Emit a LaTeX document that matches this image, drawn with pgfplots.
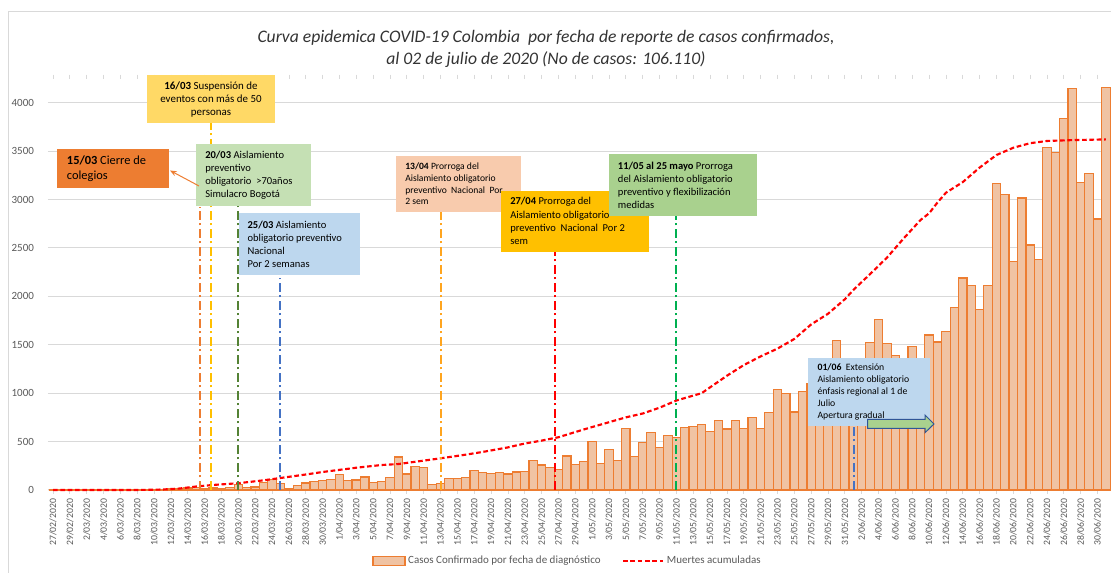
\documentclass[border=0pt]{standalone}
\usepackage{fontspec}
\setmainfont{Carlito}
\usepackage{pgfplots}
\pgfplotsset{compat=1.18}
\usetikzlibrary{arrows.meta}

\definecolor{gridgray}{HTML}{D9D9D9}
\definecolor{ticktext}{HTML}{595959}
\definecolor{titletext}{HTML}{333333}
\definecolor{barfill}{HTML}{F0C3A3}
\definecolor{barline}{HTML}{ED7D31}
\definecolor{boxyellow}{HTML}{FFD966}
\definecolor{boxorange}{HTML}{ED7D31}
\definecolor{boxgreenl}{HTML}{C5E0B4}
\definecolor{boxblue}{HTML}{BDD7EE}
\definecolor{boxpeach}{HTML}{F8CBAD}
\definecolor{boxgold}{HTML}{FFC000}
\definecolor{boxgreen}{HTML}{A9D18E}
\definecolor{arrowblue}{HTML}{2F5597}
\definecolor{lorange}{HTML}{ED7D31}
\definecolor{lyellow}{HTML}{FFC000}
\definecolor{ldkgreen}{HTML}{548235}
\definecolor{lblue}{HTML}{4472C4}
\definecolor{lorange2}{HTML}{FFA51F}
\definecolor{lgreen}{HTML}{00B050}

\tikzset{vline/.style={line width=1.5pt, dash pattern=on 7pt off 2.5pt on 1.5pt off 2.5pt}}

\begin{document}
\begin{tikzpicture}
\path[use as bounding box] (0,0) rectangle (833.25pt,429.75pt);

\begin{axis}[
  at={(36pt,62.25pt)}, anchor=south west,
  scale only axis, width=797.25pt, height=308.6pt,
  xmin=-0.6, xmax=125.6, ymin=0, ymax=4250,
  clip=false,
  axis line style={draw=none},
  ymajorgrids, grid style={gridgray, line width=0.75pt},
  ytick={0,500,...,4000},
  /pgf/number format/assume math mode=true,
  /pgf/number format/1000 sep={},
  yticklabel style={font=\fontsize{8.25}{10}\selectfont, text=ticktext, xshift=-4pt},
  y tick style={draw=none},
  xtick={0,2,...,124},
  xticklabels={27/02/2020,29/02/2020,2/03/2020,4/03/2020,6/03/2020,8/03/2020,10/03/2020,12/03/2020,14/03/2020,16/03/2020,18/03/2020,20/03/2020,22/03/2020,24/03/2020,26/03/2020,28/03/2020,30/03/2020,1/04/2020,3/04/2020,5/04/2020,7/04/2020,9/04/2020,11/04/2020,13/04/2020,15/04/2020,17/04/2020,19/04/2020,21/04/2020,23/04/2020,25/04/2020,27/04/2020,29/04/2020,1/05/2020,3/05/2020,5/05/2020,7/05/2020,9/05/2020,11/05/2020,13/05/2020,15/05/2020,17/05/2020,19/05/2020,21/05/2020,23/05/2020,25/05/2020,27/05/2020,29/05/2020,31/05/2020,2/06/2020,4/06/2020,6/06/2020,8/06/2020,10/06/2020,12/06/2020,14/06/2020,16/06/2020,18/06/2020,20/06/2020,22/06/2020,24/06/2020,26/06/2020,28/06/2020,30/06/2020},
  xticklabel style={rotate=90, anchor=east, font=\fontsize{7.3}{8}\selectfont, text=ticktext},
  x tick style={draw=gridgray, line width=0.6pt},
  major tick length=3pt, tick align=outside,
  legend style={at={(0.489,-0.1725)}, anchor=center, draw=none, fill=none,
    legend columns=2, font=\fontsize{8.25}{10}\selectfont, text=ticktext,
    /tikz/every even column/.append style={column sep=14pt}},
]

\addplot[ybar, bar width=1, fill=barfill, draw=barline, line width=0.9pt,
  legend image code/.code={\draw[fill=barfill, draw=barline, line width=0.9pt] (0pt,-3.4pt) rectangle (24pt,3.4pt);}]
coordinates {
(0,0) (1,0) (2,0) (3,0) (4,0) (5,0) (6,0) (7,0) (8,1) (9,0)
(10,2) (11,6) (12,3) (13,4) (14,10) (15,15) (16,20) (17,25) (18,15) (19,20)
(20,15) (21,25) (22,58) (23,28) (24,30) (25,78) (26,105) (27,69) (28,10) (29,45)
(30,72) (31,90) (32,96) (33,107) (34,158) (35,100) (36,103) (37,134) (38,79) (39,90)
(40,131) (41,340) (42,166) (43,245) (44,234) (45,59) (46,69) (47,117) (48,117) (49,128)
(50,200) (51,183) (52,172) (53,179) (54,166) (55,186) (56,193) (57,303) (58,259) (59,234)
(60,214) (61,352) (62,262) (63,297) (64,497) (65,272) (66,417) (67,307) (68,634) (69,345)
(70,493) (71,593) (72,438) (73,562) (74,541) (75,648) (76,655) (77,679) (78,603) (79,717)
(80,631) (81,717) (82,636) (83,750) (84,637) (85,799) (86,1040) (87,998) (88,805) (89,1015)
(90,1101) (91,1150) (92,1050) (93,1542) (94,1200) (95,1150) (96,1250) (97,1521) (98,1762) (99,1514)
(100,1390) (101,1250) (102,1480) (103,1300) (104,1600) (105,1528) (106,1638) (107,1886) (108,2189) (109,2113)
(110,1866) (111,2110) (112,3167) (113,3053) (114,2358) (115,3015) (116,2530) (117,2382) (118,3538) (119,3483)
(120,3838) (121,4144) (122,3174) (123,3270) (124,2798) (125,4158)
};
\addlegendentry{Casos Confirmado por fecha de diagnóstico}

\addplot[red, line width=1.6pt, dash pattern=on 3.5pt off 2pt, no marks,
  legend image code/.code={\draw[red, line width=1.6pt, dash pattern=on 3.5pt off 2pt] (0pt,0pt) -- (30pt,0pt);}]
coordinates {
(0,0) (5,0) (10,0) (13,5) (15,15) (17,36) (19,52) (22,70) (25,100) (27,124)
(30,160) (32,186) (36,230) (39,258) (41,268) (46,327) (49,365) (51,393) (54,440) (56,480)
(58,510) (60,545) (63,625) (66,700) (68,750) (70,790) (72,850) (74,924) (76,975) (77,1000)
(78,1060) (80,1180) (82,1290) (84,1380) (86,1460) (88,1560) (90,1710) (92,1820) (94,1970) (95,2065)
(97,2230) (99,2400) (101,2600) (103,2790) (104,2857) (105,2970) (106,3070) (108,3180) (110,3330) (112,3460)
(114,3535) (116,3582) (118,3605) (121,3614) (125,3621)
};
\addlegendentry{Muertes acumuladas}

% event lines
\draw[lorange, vline] (axis cs:17.4,0) -- (axis cs:17.4,2926);
\draw[lyellow, vline] (axis cs:18.7,0) -- (axis cs:18.7,3790);
\draw[ldkgreen, vline] (axis cs:21.9,0) -- (axis cs:21.9,2964);
\draw[lblue, vline] (axis cs:27.0,0) -- (axis cs:27.0,2190);
\draw[lorange2, vline] (axis cs:46.0,0) -- (axis cs:46.0,2874);
\draw[red, vline, line width=1pt] (axis cs:59.6,0) -- (axis cs:59.6,2461);
\draw[lgreen, vline] (axis cs:73.9,0) -- (axis cs:73.9,2830);
\draw[lblue, vline] (axis cs:95.1,0) -- (axis cs:95.1,660);
\end{axis}

% annotations, in pixel units of the 1111x573 frame
\begin{scope}[x=0.75pt, y=-0.75pt, yshift=429.75pt]
\draw[gridgray, line width=0.75pt] (8.3,573) -- (8.3,11.7) -- (1111,11.7);

\node[align=center, text=titletext, font=\fontsize{13.2}{16.5}\selectfont\itshape] at (546,49)
  {Curva epidemica COVID-19 Colombia\ \ por fecha de reporte de casos confirmados,\\ al 02 de julio de 2020 (No de casos: 106.110)};

% 16/03
\fill[boxyellow] (147,74.7) rectangle (275,123.3);
\node[align=center, inner sep=0, font=\fontsize{8.2}{9.75}\selectfont] at (211,99.5)
  {\textbf{16/03} Suspensión de\\ eventos con más de 50\\ personas};
% 15/03
\fill[boxorange] (57.3,149.3) rectangle (169,188.3);
\node[anchor=west, align=left, inner sep=0, font=\fontsize{9.3}{11.25}\selectfont] at (66.7,169)
  {\textbf{15/03} Cierre de\\ colegios};
% 20/03
\fill[boxgreenl] (196,144) rectangle (310.7,206);
\node[anchor=west, align=left, inner sep=0, font=\fontsize{7.9}{9.8}\selectfont] at (205,175)
  {\textbf{20/03} Aislamiento\\ preventivo\\ obligatorio\ \ >70años\\ Simulacro Bogotá};
\draw[lorange, line width=0.75pt, -{Stealth[length=5pt,width=4pt]}] (199,186) -- (170,170.5);
% 25/03
\fill[boxblue] (239.3,213.3) rectangle (360,275);
\node[anchor=west, align=left, inner sep=0, font=\fontsize{7.9}{9.8}\selectfont] at (247.3,244.2)
  {\textbf{25/03} Aislamiento\\ obligatorio preventivo\\ Nacional\\ Por 2 semanas};
% 13/04
\fill[boxpeach] (396,156) rectangle (520.7,211.7);
\node[anchor=west, align=left, inner sep=0, font=\fontsize{7.2}{8.85}\selectfont] at (405,183.9)
  {\textbf{13/04} Prorroga del\\ Aislamiento obligatorio\\ preventivo\ \ Nacional\ \ Por\\ 2 sem};
% 27/04
\fill[boxgold] (500.7,190.7) rectangle (648.7,252);
\node[anchor=west, align=left, inner sep=0, font=\fontsize{7.9}{9.9}\selectfont] at (510,221)
  {\textbf{27/04} Prorroga del\\ Aislamiento obligatorio\\ preventivo\ \ Nacional\ \ Por 2\\ sem};
% 11/05
\fill[boxgreen] (609.3,154) rectangle (757.3,216);
\node[anchor=west, align=left, inner sep=0, font=\fontsize{7.9}{9.8}\selectfont] at (617.7,185.5)
  {\textbf{11/05 al 25 mayo} Prorroga\\ del Aislamiento obligatorio\\ preventivo y flexibilización\\ medidas};
% 01/06
\fill[boxblue] (808.3,358.3) rectangle (930,426);
\node[anchor=west, align=left, inner sep=0, font=\fontsize{7.3}{9}\selectfont] at (817.3,392.2)
  {\textbf{01/06}\ \ Extensión\\ Aislamiento obligatorio\\ énfasis regional al 1 de\\ Julio\\ Apertura gradual};
\filldraw[fill=boxgreen, draw=arrowblue, line width=0.75pt]
  (867.7,419.3) -- (925,419.3) -- (925,415) -- (934,424) -- (925,432.7) -- (925,428.3) -- (867.7,428.3) -- cycle;
\end{scope}
\end{tikzpicture}
\end{document}
